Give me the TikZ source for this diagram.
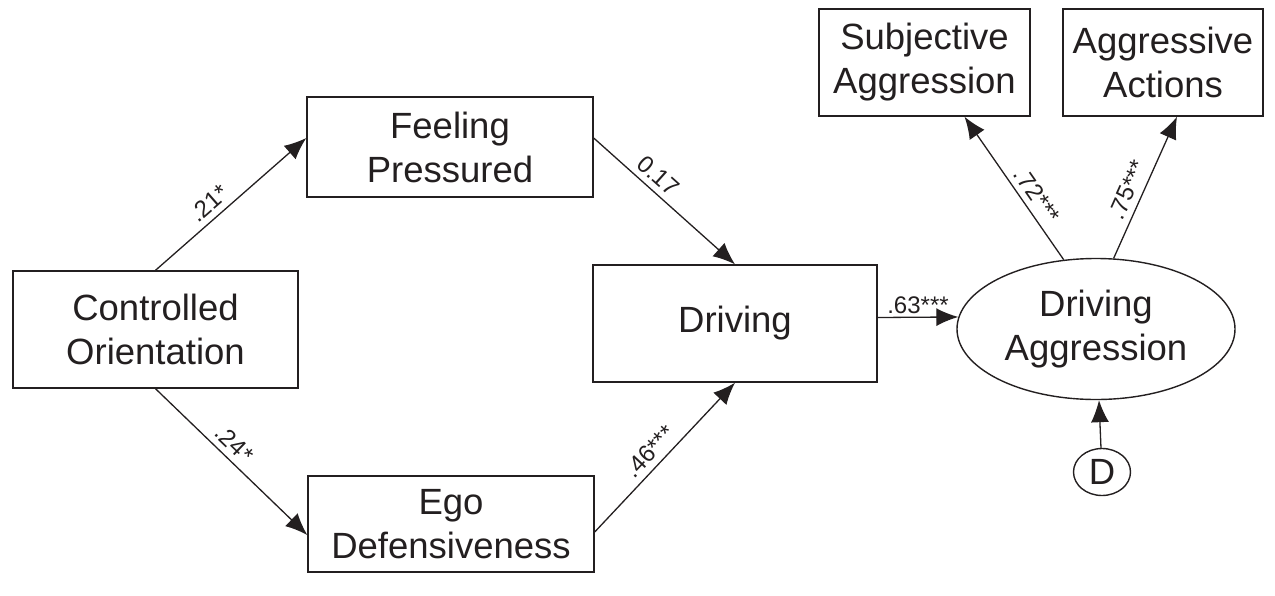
\documentclass[tikz,border=0pt]{standalone}
\usepackage{fontspec}
\setmainfont{Liberation Sans}
\usetikzlibrary{arrows.meta,shapes.geometric}
\definecolor{ink}{HTML}{231F20}

\begin{document}
\begin{tikzpicture}[x=1pt,y=-1pt,
    box/.style={draw=ink,text=ink,line width=1.4pt,align=center,inner sep=0pt,font=\fontsize{36.5}{44}\selectfont},
    coef/.style={text=ink,inner sep=6pt,font=\fontsize{24}{28}\selectfont},
    conn/.style={draw=ink,line width=1.3pt,-{Latex[length=22pt,width=18pt]}}]
      \useasboundingbox (0,0) rectangle (1275,595);
      \node[box,minimum width=285,minimum height=117] (CO) at (155.5,329.5) {Controlled\\Orientation};
      \node[box,minimum width=286,minimum height=100] (FP) at (450,147) {Feeling\\Pressured};
      \node[box,minimum width=286,minimum height=96] (ED) at (451,524) {Ego\\Defensiveness};
      \node[box,minimum width=284,minimum height=117] (DR) at (735,323.5) {Driving};
      \node[box,ellipse,minimum width=278,minimum height=141] (DA) at (1096,329) {Driving\\Aggression};
      \node[box,minimum width=211,minimum height=107] (SA) at (924.5,62.5) {Subjective\\Aggression};
      \node[box,minimum width=200,minimum height=107] (AA) at (1163,62.5) {Aggressive\\Actions};
      \node[box,ellipse,minimum width=57,minimum height=47] (D) at (1102,472) {D};
      \draw[conn] (CO.north) -- ([yshift=9]FP.west) node[coef,pos=0.42,sloped,above] {.21*};
      \draw[conn] (CO.south) -- ([yshift=-11]ED.west) node[coef,pos=0.45,sloped,above] {.24*};
      \draw[conn] ([yshift=9]FP.east) -- (DR.north) node[coef,pos=0.39,sloped,above] {0.17};
      \draw[conn] ([yshift=-8]ED.east) -- (DR.south) node[coef,pos=0.47,sloped,above] {.46***};
      \draw[conn] ([yshift=6]DR.east) -- (DA.175) node[coef,midway,above,inner sep=3pt] {.63***};
      \draw[conn] (DA.115) -- ([xshift=40]SA.south) node[coef,pos=0.39,sloped,above] {.72***};
      \draw[conn] (DA.76) -- ([xshift=14]AA.south) node[coef,pos=0.44,sloped,above] {.75***};
      \draw[conn] (D) -- (DA);
\end{tikzpicture}
\end{document}
